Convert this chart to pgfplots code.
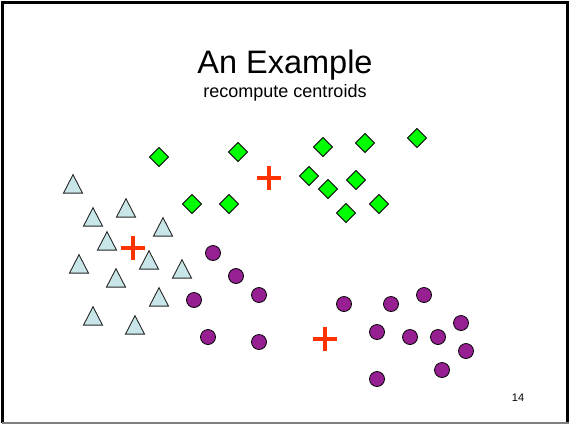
\documentclass[border=0pt]{standalone}
\usepackage{pgfplots}
\pgfplotsset{compat=1.18}
\usepackage{fontspec}
\setmainfont{Liberation Sans}
\definecolor{tri}{RGB}{200,230,232}
\definecolor{dia}{RGB}{0,255,0}
\definecolor{cir}{RGB}{150,32,146}
\definecolor{crs}{RGB}{255,51,0}
\begin{document}
\begin{tikzpicture}
\useasboundingbox (0,0) rectangle (569pt,424pt);
\begin{axis}[
  at={(0,0)}, anchor=south west,
  scale only axis, width=569pt, height=424pt,
  xmin=0, xmax=569, ymin=0, ymax=424, y dir=reverse,
  hide axis, clip=false,
]
% triangles
\addplot[only marks, mark=triangle*, mark size=11, mark options={fill=tri, draw=black!85, line width=0.9pt, yscale=1.12}]
 coordinates {(73,187)(93,220)(126,211)(163,230)(107,244)(79,267)(149,263)(182,272)(116,281)(159,300)(93,319)(135,328)};
% diamonds
\addplot[only marks, mark=diamond*, mark size=9.5, mark options={fill=dia, draw=black, line width=0.8pt, xscale=1.33}]
 coordinates {(159,157)(238,152)(323,147)(365,143)(417,138)(309,176)(356,180)(328,189)(192,204)(229,204)(379,204)(346,213)};
% circles
\addplot[only marks, mark=*, mark size=7.5, mark options={fill=cir, draw=black, line width=0.8pt}]
 coordinates {(213,253)(236,276)(259,295)(194,300)(208,337)(259,342)(344,304)(391,304)(424,295)(377,332)(410,337)(438,337)(461,323)(466,351)(442,370)(377,379)};
% centroids
\addplot[only marks, mark=+, mark size=12, mark options={draw=crs, line width=3.6pt}]
 coordinates {(133,248)(269,178)(325,339)};
% texts
\node[anchor=base, font=\fontsize{32.5}{38}\selectfont] at (axis cs:285,73) {An Example};
\node[anchor=base, font=\fontsize{18}{22}\selectfont] at (axis cs:285,97) {recompute centroids};
\node[anchor=base, font=\fontsize{11}{13}\selectfont] at (axis cs:518,401) {14};
% frame
\draw[black, line width=2.5pt] (axis cs:2.5,423) -- (axis cs:2.5,2.5) -- (axis cs:567.5,2.5) -- (axis cs:567.5,423);
\draw[gray, line width=1.5pt] (axis cs:2,423) -- (axis cs:569,423);
\end{axis}
\end{tikzpicture}
\end{document}
